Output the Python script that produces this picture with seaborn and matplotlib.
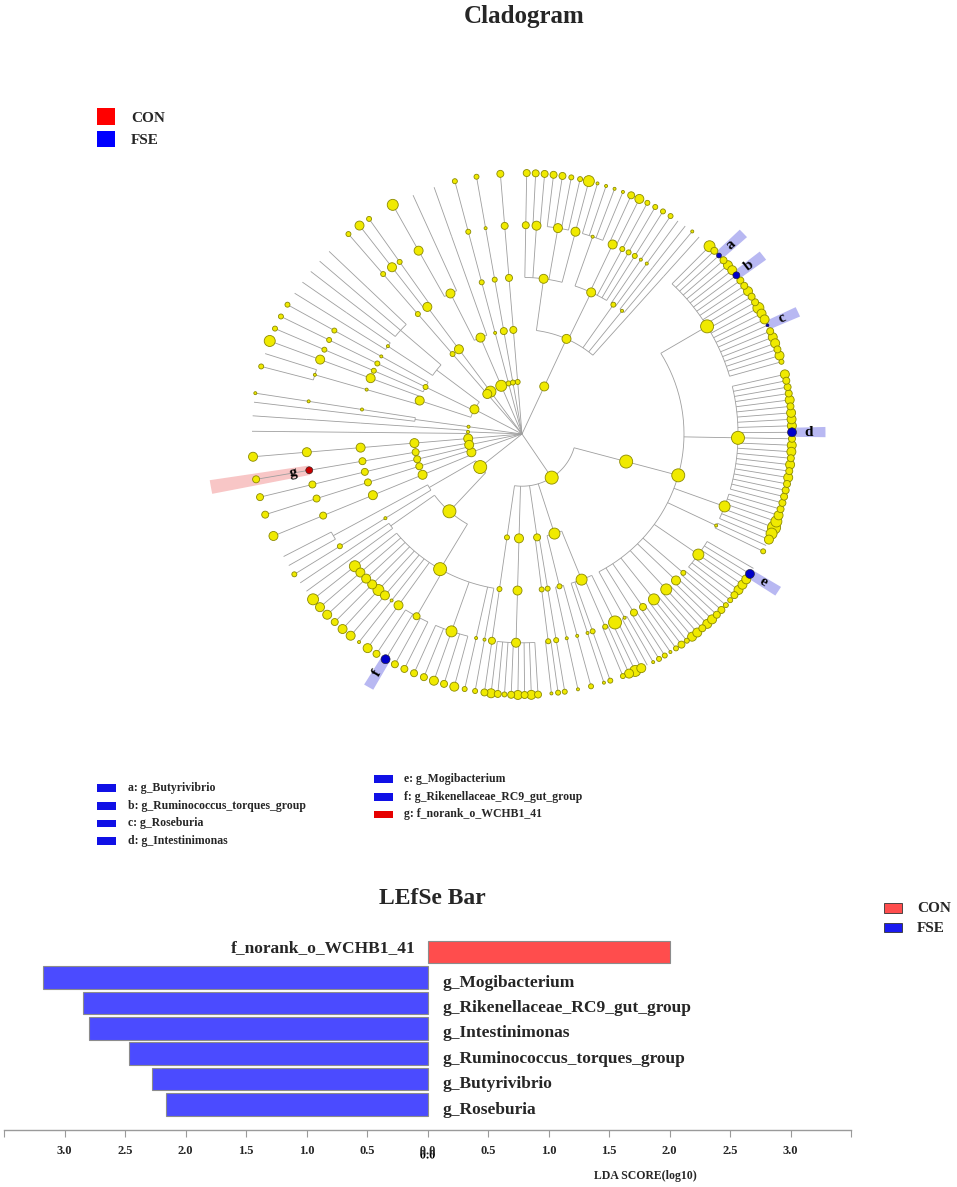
import numpy as np
import pandas as pd
import matplotlib
matplotlib.use("Agg")
import matplotlib.pyplot as plt
import matplotlib.patheffects as pe
from matplotlib.collections import LineCollection
from matplotlib.patches import Polygon, Rectangle
import seaborn as sns

# ---------------- cladogram data ----------------
# one tree string per phylum: "(...)n" = inner node, a lone digit = genus,
# n = circle size code (0 = no circle), a letter after it = biomarker,
# "_" = empty angular slot
lachnospiraceae = "(5 3 2a 3 4 4 3b 3 3 4 3 3 5 4 4 1c 3 4 4 3 4 2)6"
ruminococcaceae = "(4 3 3 3 4 3 4 4 4 4d 3 4 4 3 4 3 4 3 3 3 3)6"
family_xiii = "(0 4e 4 4 4 3 2)5"
clostridia = ("((" + lachnospiraceae + " _ " + ruminococcaceae +
              " (3 4 5 6 5 4)5 (0 2)1 _ _ " + family_xiii +
              " (2 3)2 (3 4)4 (4 3 4)5 (4 2 3)5 (2 1)3 (2 2)3 (1 0)1)6)6")
firmicutes = ("(" + clostridia +
              " (((4 5)6 (4 2)2 _ (2)2 (1)1)5 _ ((2)1 _ (1)1)2)5"
              " _ (((2)2)2 ((2 1)2)2)3 _ (((3 4 3 4 3 2 3 4)4)4)4 (((3)3)2)2)6")
bacteroidales = "((2)1 (2)1 (4 3 4 3 3)5 (3 3 4f 3)3 (4)4 (1)1 (4)4 (4)5 (3)4 (4)4 (4)4 (5)5)6"
bacteroidetes = "((" + bacteroidales + " ((0)0 (0)0)0)6 (((2)2)1 ((0 0)0)0)0)6"
proteobacteria = ("((((3)3 (33)4 (3322)4 (5)4)4 ((1111)1 (34)4 (2)2 (2)2 (2)2)4"
                  " ((2)1 (0)1)2 ((0)0 (1)0)1 ((0)0)0)4)4")

phylum_trees = [
    "((((2)2)2)1)2", "((((2)1)2)3)2", "((((3)3)3)3)2",
    proteobacteria, firmicutes, bacteroidetes,
    "((((4)3)4)4 (((3)3)3)3)4",
    "((((3)3)3)3 (((3)3g)3)3)4",
    "((((4)4)4)4)4",
    "((((0)0)0)0 (((0)0)0)0)1",
    "((((0)0)0 ((1)1)1)0)1",
    "((((2 0)1)1 ((5)4)4)4 (((2)2)2 ((2)2)2 ((2)2)1)2 (((0)0 (0)0)1 ((0)0 (0)0 (0)0)0)0)4",
    "((((2)2)2)2)4",
    "((((4)4 (2)2)4)4)5",
    "((((5)4 (0)0)4 ((0)0)0)4)5",
]
# angular range (degrees, counter-clockwise from 3 o'clock) of each phylum's genera
phylum_from = [104.4, 99.7, 94.6, 89.0, 46.0, -100.0, -157.0, -166.0, -175.0,
               179.4, 173.0, 165.0, 130.0, 127.0, 118.6]
phylum_to = [104.4, 99.7, 94.6, 49.0, -98.0, -152.0, -162.0, -170.0, -175.0,
             176.0, 171.0, 135.6, 130.0, 124.5, 109.0]

marker_keys = ["a", "b", "c", "d", "e", "f", "g"]
marker_names = ["g_Butyrivibrio", "g_Ruminococcus_torques_group", "g_Roseburia",
                "g_Intestinimonas", "g_Mogibacterium", "g_Rikenellaceae_RC9_gut_group",
                "f_norank_o_WCHB1_41"]
marker_groups = ["FSE", "FSE", "FSE", "FSE", "FSE", "FSE", "CON"]

# ---------------- LEfSe bar data ----------------
lefse_taxa = ["f_norank_o_WCHB1_41", "g_Mogibacterium", "g_Rikenellaceae_RC9_gut_group",
              "g_Intestinimonas", "g_Ruminococcus_torques_group", "g_Butyrivibrio",
              "g_Roseburia"]
lefse_lda = [2.00, 3.18, 2.85, 2.80, 2.47, 2.28, 2.16]
lefse_group = ["CON", "FSE", "FSE", "FSE", "FSE", "FSE", "FSE"]

group_colors = {"CON": "#FF0000", "FSE": "#0000FF"}
bar_colors = {"CON": "#FF4D4D", "FSE": "#4B4BFF"}
node_colors = {"CON": "#C80000", "FSE": "#0000C8"}
band_colors = {"CON": "#F8C6C6", "FSE": "#B8B8F2"}

size_px = {1: 3, 2: 5, 3: 7, 4: 9, 5: 11, 6: 13, 7: 15}
size_area = {k: (v * 0.72) ** 2 for k, v in size_px.items()}

sns.set_theme(style="white")
plt.rcParams["font.family"] = ["Liberation Serif", "DejaVu Serif"]
plt.rcParams["font.weight"] = "bold"

W, H = 957, 1187


def fx(x):
    return x / W


def fy(y):
    return 1 - y / H


# ---------------- tree helpers ----------------
def parse(text):
    s = text.replace(" ", "")
    pos = 0

    def read():
        nonlocal pos
        if s[pos] == "_":
            pos += 1
            return None
        kids = []
        if s[pos] == "(":
            pos += 1
            while s[pos] != ")":
                kids.append(read())
            pos += 1
        node = {"kids": kids, "size": int(s[pos]), "mark": ""}
        pos += 1
        if pos < len(s) and s[pos].isalpha():
            node["mark"] = s[pos]
            pos += 1
        return node

    return read()


def count_slots(node):
    if node is None or not node["kids"]:
        return 1
    return sum(count_slots(k) for k in node["kids"])


def place(node, depth, state):
    if node is None:
        state["i"] += 1
        return
    node["r"] = depth
    if not node["kids"]:
        node["ang"] = state["a0"] + state["step"] * state["i"]
        state["i"] += 1
        node["leaves"] = [node["ang"]]
        return
    for k in node["kids"]:
        place(k, depth + 1, state)
    node["kids"] = [k for k in node["kids"] if k is not None]
    node["ang"] = (node["kids"][0]["ang"] + node["kids"][-1]["ang"]) / 2
    node["leaves"] = sum((k["leaves"] for k in node["kids"]), [])


def polar(r, a):
    t = np.radians(a)
    return r * np.cos(t), r * np.sin(t)


phyla = []
for tree, a0, a1 in zip(phylum_trees, phylum_from, phylum_to):
    root = parse(tree)
    n = count_slots(root)
    step = (a1 - a0) / (n - 1) if n > 1 else 0.0
    place(root, 1, {"i": 0, "a0": a0, "step": step})
    phyla.append(root)

segments, rows, marked = [], [], []


def walk(node):
    r = node["r"]
    angs = [k["ang"] for k in node["kids"]]
    if r > 0 and len(angs) > 1:
        arc = np.linspace(min(angs), max(angs), 40)
        segments.append(np.column_stack(polar(r, arc)))
    for k in node["kids"]:
        segments.append([polar(r, k["ang"]), polar(k["r"], k["ang"])])
        walk(k)
    if r > 0:
        x, y = polar(r, node["ang"])
        grp = ""
        if node["mark"]:
            grp = marker_groups[marker_keys.index(node["mark"])]
            marked.append(node)
        if node["size"] > 0:
            rows.append({"x": x, "y": y, "code": node["size"], "group": grp})


walk({"kids": phyla, "size": 0, "mark": "", "r": 0, "ang": 0.0})

nodes = pd.DataFrame(rows).sort_values("code", ascending=False)

# ---------------- figure ----------------
fig = plt.figure(figsize=(W / 100, H / 100), dpi=100)

# cladogram axes: center at (522, 434) px, 54 px per level horizontally
ax_c = fig.add_axes([fx(522 - 6.2 * 54), fy(434 + 6.2 * 52.2),
                     12.4 * 54 / W, 12.4 * 52.2 / H])

ax_c.add_collection(LineCollection(segments, colors="#9E9E9E", linewidths=0.6, zorder=2))

for node in marked:
    grp = marker_groups[marker_keys.index(node["mark"])]
    half = 1.0 if node["r"] == 5 else 1.3
    lo, hi = min(node["leaves"]) - half, max(node["leaves"]) + half
    r0 = node["r"]
    r1 = 5.62 if node["r"] == 5 else 5.85
    t = np.linspace(lo, hi, 20)
    inner = np.column_stack(polar(r0, t))
    outer = np.column_stack(polar(r1, t[::-1]))
    ax_c.add_patch(Polygon(np.vstack([inner, outer]), closed=True,
                           facecolor=band_colors[grp], edgecolor="none", zorder=1))
    a = node["ang"]
    rot = a if -90 <= a <= 90 else a + 180
    lx, ly = polar(node["r"] + 0.3, a)
    ax_c.text(lx, ly, node["mark"], ha="center", va="center", rotation=rot,
              fontsize=11, fontweight="bold", color="black", zorder=5)

plain = nodes[nodes["group"] == ""]
sns.scatterplot(data=plain, x="x", y="y", size="code", sizes=size_area,
                color="#F0EA00", edgecolor="#8C8A00", linewidth=0.6,
                legend=False, ax=ax_c, zorder=3)
hits = nodes[nodes["group"] != ""]
sns.scatterplot(data=hits, x="x", y="y", size="code", sizes=size_area,
                hue="group", palette=node_colors, edgecolor="#202020", linewidth=0.4,
                legend=False, ax=ax_c, zorder=4)
ax_c.set_xlim(-6.2, 6.2)
ax_c.set_ylim(-6.2, 6.2)
ax_c.axis("off")

fig.text(fx(524), fy(17), "Cladogram", ha="center", va="center", fontsize=18, fontweight="bold")

# top-left group legend
for i, g in enumerate(["CON", "FSE"]):
    top = 108 + i * 22.5
    fig.add_artist(Rectangle((fx(97), fy(top + 16.5)), 18 / W, 16.5 / H,
                             transform=fig.transFigure, facecolor=group_colors[g],
                             edgecolor="none"))
    fig.text(fx(131), fy(top + 10), g, ha="left", va="center", fontsize=11, fontweight="bold")

# biomarker legend under the cladogram
legend_cols = [(97, 128, 788), (374, 404, 779)]
for i, (k, name, g) in enumerate(zip(marker_keys, marker_names, marker_groups)):
    col, row = (0, i) if i < 4 else (1, i - 4)
    bx, tx, y0 = legend_cols[col]
    y = y0 + row * 17.7
    fig.add_artist(Rectangle((fx(bx), fy(y + 3.8)), 18.5 / W, 7.6 / H,
                             transform=fig.transFigure,
                             facecolor="#1010E6" if g == "FSE" else "#E60000",
                             edgecolor="none"))
    fig.text(fx(tx), fy(y), f"{k}: {name}", ha="left", va="center",
             fontsize=8.5, fontweight="bold")

# ---------------- LEfSe bar ----------------
ax_b = fig.add_axes([fx(4), fy(1130), (851 - 4) / W, (1130 - 937) / H])
bar_df = pd.DataFrame({
    "taxon": lefse_taxa,
    "lda": [v if g == "CON" else -v for v, g in zip(lefse_lda, lefse_group)],
    "group": lefse_group,
})
sns.barplot(data=bar_df, x="lda", y="taxon", hue="group", order=lefse_taxa,
            hue_order=["CON", "FSE"], palette=bar_colors, dodge=False, orient="h",
            width=0.89, saturation=1, edgecolor="#8C8C8C", linewidth=0.8,
            legend=False, ax=ax_b)
ax_b.set_xlim(-3.5, 3.5)
ax_b.set_ylim(7.0, -0.59)
ax_b.set_yticks([])
ax_b.set_xlabel("")
ax_b.set_ylabel("")
for side in ["top", "left", "right"]:
    ax_b.spines[side].set_visible(False)
ax_b.spines["bottom"].set_color("#9A9A9A")
ax_b.spines["bottom"].set_linewidth(1.0)
ticks = np.arange(-3.5, 3.51, 0.5)
ax_b.set_xticks(ticks)
ax_b.set_xticklabels(["" if abs(abs(v) - 3.5) < 1e-6 else f"{abs(v):.1f}" for v in ticks],
                     fontsize=9, fontweight="bold")
ax_b.tick_params(axis="x", direction="out", length=5, width=0.8, color="#9A9A9A",
                 pad=6, bottom=True)
# the two "0.0" labels (left and right scales) print on top of each other
for lab, v in zip(ax_b.get_xticklabels(), ticks):
    if abs(v) < 1e-6:
        lab.set_path_effects([pe.SimplePatchShadow(offset=(0, -3), shadow_rgbFace="black",
                                                   alpha=1.0), pe.Normal()])

for i, (name, g) in enumerate(zip(lefse_taxa, lefse_group)):
    if g == "CON":
        ax_b.text(-0.1, i - 0.16, name, ha="right", va="center", fontsize=12.5, fontweight="bold")
    else:
        ax_b.text(0.12, i + 0.2, name, ha="left", va="center", fontsize=12.5, fontweight="bold")

fig.text(fx(432), fy(898), "LEfSe Bar", ha="center", va="center", fontsize=17, fontweight="bold")
fig.text(fx(645), fy(1176), "LDA SCORE(log10)", ha="center", va="center",
         fontsize=8.5, fontweight="bold")

for i, g in enumerate(["CON", "FSE"]):
    top = 903 + i * 19.5
    fig.add_artist(Rectangle((fx(884), fy(top + 9.5)), 18 / W, 9.5 / H,
                             transform=fig.transFigure,
                             facecolor=bar_colors[g] if g == "CON" else "#1A1AF0",
                             edgecolor="#333333", linewidth=0.6))
    fig.text(fx(917), fy(top + 6), g, ha="left", va="center", fontsize=11, fontweight="bold")

fig.savefig("out.png", dpi=100, facecolor="white")
